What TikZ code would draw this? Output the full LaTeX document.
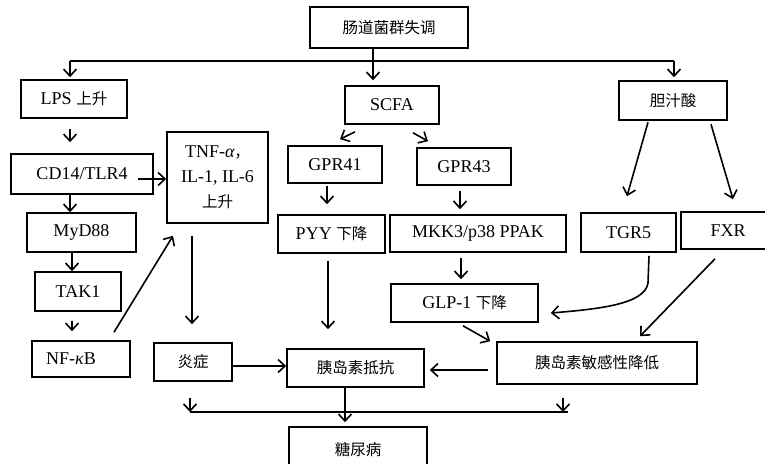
\documentclass[tikz,border=0pt]{standalone}
\usepackage{fontspec}
\setmainfont{Liberation Serif}
\newfontfamily\cjkfont{Noto Sans CJK SC}
\usetikzlibrary{arrows.meta}
\newcommand\zhtxt[1]{{\cjkfont\fontsize{15.5}{21}\selectfont #1}}
\begin{document}
\begin{tikzpicture}[x=1pt,y=-1pt,
  box/.style={draw, line width=1.6pt, inner sep=0pt, align=center, font=\fontsize{18}{25}\selectfont},
  arr/.style={line width=1.6pt, -{Straight Barb[length=7pt,width=13pt]}},
  ln/.style={line width=1.6pt}]
\useasboundingbox (0,0) rectangle (765,463);
% nodes
\node[box, minimum width=158pt, minimum height=41pt] (top) at (389,27.5) {\zhtxt{肠道菌群失调}};
\node[box, minimum width=106pt, minimum height=38pt] (lps) at (74,99) {LPS \zhtxt{上升}};
\node[box, minimum width=94pt, minimum height=38pt] (scfa) at (392,105) {SCFA};
\node[box, minimum width=108pt, minimum height=39pt] (bile) at (673,100.5) {\zhtxt{胆汁酸}};
\node[box, minimum width=142pt, minimum height=40pt] (cd14) at (82,174) {CD14/TLR4};
\node[box, minimum width=101pt, minimum height=91pt] (tnf) at (217.5,177.5) {TNF-{\itshape α}\zhtxt{，}\\IL-1, IL-6\\\zhtxt{上升}};
\node[box, minimum width=94pt, minimum height=37pt] (gpr41) at (335,164.5) {GPR41};
\node[box, minimum width=94pt, minimum height=37pt] (gpr43) at (464,166.5) {GPR43};
\node[box, minimum width=109pt, minimum height=39pt] (myd) at (81.5,232.5) {MyD88};
\node[box, minimum width=107pt, minimum height=38pt] (pyy) at (331.5,234) {PYY \zhtxt{下降}};
\node[box, minimum width=176pt, minimum height=37pt] (mkk) at (478,233.5) {MKK3/p38 PPAK};
\node[box, minimum width=95pt, minimum height=39pt] (tgr5) at (628.5,232.5) {TGR5};
\node[box, minimum width=94pt, minimum height=37pt] (fxr) at (728,230.5) {FXR};
\node[box, minimum width=86pt, minimum height=39pt] (tak) at (78,291.5) {TAK1};
\node[box, minimum width=147pt, minimum height=38pt] (glp) at (464.5,303) {GLP-1 \zhtxt{下降}};
\node[box, minimum width=98pt, minimum height=36pt] (nfkb) at (81,359) {NF-{\itshape κ}B\hspace*{20pt}};
\node[box, minimum width=78pt, minimum height=38pt] (yan) at (193,362) {\zhtxt{炎症}};
\node[box, minimum width=137pt, minimum height=38pt] (res) at (355.5,368) {\zhtxt{胰岛素抵抗}};
\node[box, minimum width=200pt, minimum height=42pt] (sens) at (597,363) {\zhtxt{胰岛素敏感性降低}};
\node[box, minimum width=138pt, minimum height=46pt] (dm) at (358,450) {\zhtxt{糖尿病}};
% helper coordinates
\coordinate (jl) at (70,61);
\coordinate (jm) at (373,61);
\coordinate (jr) at (674,61);
\coordinate (vx) at (72,0);
\coordinate (vy) at (192,0);
\coordinate (vz) at (345,0);
\coordinate (v41) at (327,0);
\coordinate (vp) at (328,0);
\coordinate (v43) at (460,0);
\coordinate (vm) at (461,0);
\coordinate (c1) at (138,179);
\coordinate (hy1) at (0,366);
\coordinate (hy2) at (0,370);
\coordinate (bl) at (190,412);
\coordinate (br) at (568,412);
\coordinate (brr) at (563,412);
% connectors
\draw[ln] (jl) -- (jr);
\draw[arr, shorten >=5pt] (top.south -| jm) -- (scfa.north -| jm);
\draw[arr, shorten >=2pt] (jl) -- (lps.north -| jl);
\draw[arr, shorten >=3pt] (jr) -- (bile.north -| jr);
\draw[arr, shorten <=10pt, shorten >=11pt] (lps.south -| jl) -- (cd14.north -| jl);
\draw[arr] (cd14.south -| jl) -- (myd.north -| jl);
\draw[arr] (c1) -- (c1 -| tnf.west);
\draw[arr] (myd.south -| vx) -- (tak.north -| vx);
\draw[arr, shorten <=9pt, shorten >=9pt] (tak.south -| vx) -- (nfkb.north -| vx);
\draw[arr] ([xshift=33pt,yshift=8pt]nfkb.north) -- ([xshift=-44.5pt,yshift=-12pt]tnf.south);
\draw[arr, shorten <=12pt, shorten >=18pt] (tnf.south -| vy) -- (yan.north -| vy);
\draw[arr] (yan.east |- hy1) -- (res.west |- hy1);
\draw[arr, shorten >=4pt] (res.south -| vz) -- (dm.north -| vz);
\draw[ln] (bl) -- (br);
\draw[arr, shorten <=16pt] (yan.south -| bl) -- (bl);
\draw[arr, shorten <=13pt] (sens.south -| brr) -- (brr);
\draw[arr] ([xshift=-37pt,yshift=-7pt]scfa.south) -- ([xshift=5pt,yshift=6pt]gpr41.north);
\draw[arr] ([xshift=21pt,yshift=-8pt]scfa.south) -- ([xshift=-36pt,yshift=6pt]gpr43.north);
\draw[arr, shorten <=2pt, shorten >=10pt] (gpr41.south -| v41) -- (pyy.north -| v41);
\draw[arr, shorten <=7pt, shorten >=19pt] (pyy.south -| vp) -- (res.north -| vp);
\draw[arr, shorten <=5pt, shorten >=5pt] (gpr43.south -| v43) -- (mkk.north -| v43);
\draw[arr, shorten <=5pt, shorten >=4pt] (mkk.south -| vm) -- (glp.north -| vm);
\draw[arr] ([xshift=-1.5pt,yshift=-3pt]glp.south) -- ([xshift=-6pt]sens.north west);
\draw[arr, shorten <=8pt, shorten >=5pt] (sens.west |- hy2) -- (res.east |- hy2);
\draw[arr] ([xshift=-25pt,yshift=-1.5pt]bile.south) -- ([xshift=-1.5pt,yshift=16pt]tgr5.north);
\draw[arr] ([xshift=38pt,yshift=-3.5pt]bile.south) -- ([xshift=5pt,yshift=12pt]fxr.north);
\draw[arr] ([xshift=20.5pt,yshift=-3pt]tgr5.south) -- (648,283) .. controls (645,304) and (600,309) .. ([xshift=12pt,yshift=-10pt]glp.east);
\draw[arr] ([xshift=-13pt,yshift=-9pt]fxr.south) -- ([xshift=43pt,yshift=5pt]sens.north);
\end{tikzpicture}
\end{document}
